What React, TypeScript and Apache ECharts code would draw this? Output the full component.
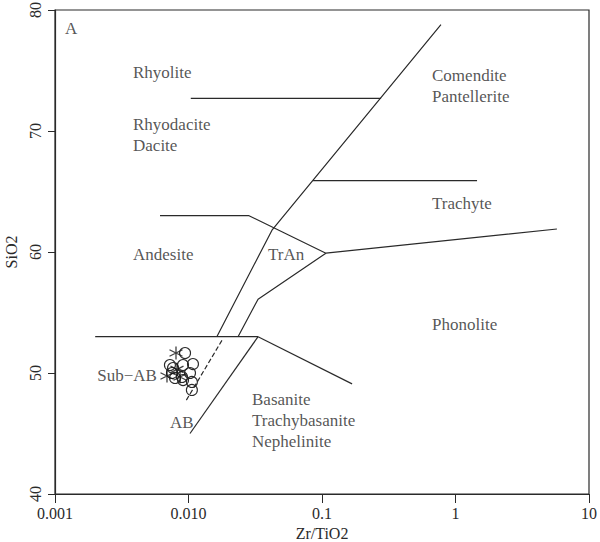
import React, { useEffect, useRef } from "react";
import * as echarts from "echarts";

// Field boundary polylines [Zr/TiO2, SiO2]
const boundaryMain: [number, number][] = [[0.778, 78.8], [0.0422, 61.8], [0.0163, 53.0]];
const boundaryRhyolite: [number, number][] = [[0.0104, 72.7], [0.277, 72.7]];
const boundaryTrachyte: [number, number][] = [[0.0857, 65.9], [1.45, 65.9]];
const boundaryAndesite: [number, number][] = [[0.00612, 63.0], [0.0284, 63.0], [0.107, 59.9], [5.75, 61.9]];
const boundaryTrAn: [number, number][] = [[0.107, 59.9], [0.0332, 56.1], [0.0235, 53.0]];
const boundarySubAB: [number, number][] = [[0.002, 53.0], [0.0332, 53.0]];
const boundaryAB: [number, number][] = [[0.0332, 53.0], [0.01026, 45.0]];
const boundaryBasanite: [number, number][] = [[0.0332, 53.0], [0.168, 49.1]];
const boundaryDashed: [number, number][] = [[0.0178, 52.7], [0.00957, 47.7]];

// Samples
const circleSamples: [number, number][] = [
  [0.00942, 51.65], [0.00726, 50.66], [0.0091, 50.66], [0.0108, 50.74],
  [0.00752, 50.0], [0.01026, 50.0], [0.00793, 49.59], [0.0091, 49.42],
  [0.0106, 49.26], [0.0106, 48.6], [0.00894, 49.67], [0.00766, 50.41],
];
const starSamples: [number, number][] = [
  [0.00806, 51.65], [0.0069, 49.75], [0.00864, 49.67], [0.0082, 50.3],
];

// Field names and their anchor positions
const fieldNames = [
  "A", "Rhyolite", "Rhyodacite\nDacite", "Comendite\nPantellerite", "Trachyte",
  "Andesite", "TrAn", "Phonolite", "Sub\u2212AB", "AB", "Basanite\nTrachybasanite\nNephelinite",
];
const fieldX = [0.00119, 0.00384, 0.00384, 0.667, 0.667, 0.00384, 0.0394, 0.667, 0.00207, 0.00727, 0.0299];
const fieldY = [78.5, 74.8, 69.7, 73.7, 64.0, 59.8, 59.8, 54.0, 49.8, 45.95, 46.1];

const xTickLabels: Record<string, string> = {
  "0.001": "0.001", "0.01": "0.010", "0.1": "0.1", "1": "1", "10": "10",
};
const yTicks = { min: 40, max: 80, interval: 10 };

const FONT = "Liberation Serif";
const INK = "#2a2a2a";

export default function App() {
  const ref = useRef<HTMLDivElement>(null);
  useEffect(() => {
    if (!ref.current) return;
    document.body.style.margin = "0";
    const chart = echarts.init(ref.current, undefined, { renderer: "svg" });
    const lineSeries = (data: [number, number][], dashed = false) => ({
      type: "line",
      data,
      symbol: "none",
      silent: true,
      lineStyle: { color: INK, width: 1.2, type: dashed ? "dashed" : "solid" },
    });
    chart.setOption({
      animation: false,
      backgroundColor: "#fff",
      grid: {
        left: 55, right: 11, top: 10, bottom: 48,
        containLabel: false,
        outerBoundsMode: "none",
        show: true, borderColor: INK, borderWidth: 1.2, backgroundColor: "transparent",
      },
      xAxis: {
        type: "log",
        logBase: 10,
        min: 0.001,
        max: 10,
        name: "Zr/TiO2",
        nameLocation: "middle",
        nameGap: 31,
        nameTextStyle: { fontFamily: FONT, fontSize: 16, color: INK },
        axisLine: { lineStyle: { color: INK, width: 1.2 } },
        axisTick: { length: 9, inside: false, lineStyle: { color: INK } },
        splitLine: { show: false },
        minorTick: { show: false },
        axisLabel: {
          fontFamily: FONT, fontSize: 16, color: INK, margin: 11,
          formatter: (v: number) => {
            const key = String(Number(v.toPrecision(6)));
            return xTickLabels[key] ?? key;
          },
        },
      },
      yAxis: {
        type: "value",
        min: yTicks.min,
        max: yTicks.max,
        interval: yTicks.interval,
        name: "SiO2",
        nameLocation: "middle",
        nameGap: 31,
        nameTextStyle: { fontFamily: FONT, fontSize: 16, color: INK },
        axisLine: { show: true, lineStyle: { color: INK, width: 1.2 } },
        axisTick: { show: true, length: 7, lineStyle: { color: INK } },
        splitLine: { show: false },
        axisLabel: { fontFamily: FONT, fontSize: 16, color: INK, rotate: 90, margin: 12 },
      },
      series: [
        lineSeries(boundaryMain),
        lineSeries(boundaryRhyolite),
        lineSeries(boundaryTrachyte),
        lineSeries(boundaryAndesite),
        lineSeries(boundaryTrAn),
        lineSeries(boundarySubAB),
        lineSeries(boundaryAB),
        lineSeries(boundaryBasanite),
        lineSeries(boundaryDashed, true),
        {
          type: "scatter",
          data: circleSamples,
          symbol: "circle",
          symbolSize: 11,
          itemStyle: { color: "none", opacity: 1, borderColor: INK, borderWidth: 1.1 },
          z: 5,
        },
        {
          type: "scatter",
          data: starSamples,
          symbol: "path://M0,-10L0,10M-8.66,-5L8.66,5M-8.66,5L8.66,-5",
          symbolSize: 13,
          itemStyle: { color: "none", borderColor: "#111", borderWidth: 1.3 },
          z: 6,
        },
        {
          type: "scatter",
          silent: true,
          symbolSize: 0,
          data: fieldNames.map((n, i) => ({ value: [fieldX[i], fieldY[i]], name: n })),
          label: {
            show: true,
            position: "right",
            distance: 0,
            formatter: (p: any) => p.name,
            fontFamily: FONT,
            fontSize: 17,
            lineHeight: 21,
            color: INK,
          },
          z: 7,
        },
      ],
    });
    return () => chart.dispose();
  }, []);
  return <div ref={ref} style={{ width: 600, height: 542 }} />;
}
